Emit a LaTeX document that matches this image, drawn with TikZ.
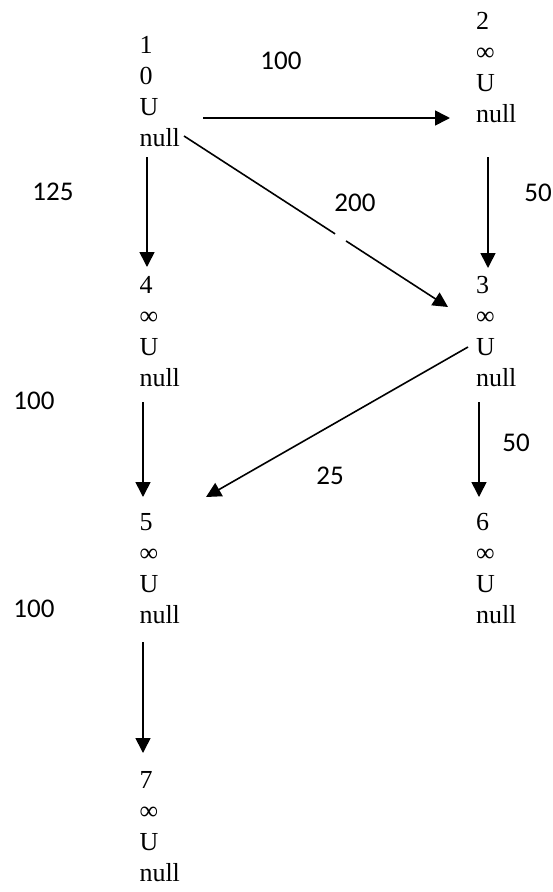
\documentclass[tikz,border=0pt]{standalone}
\usepackage{fontspec}
\setmainfont{Liberation Serif}
\newfontfamily\lblfont{Carlito}
\usetikzlibrary{arrows.meta}
\newcommand{\vstack}[1]{\begin{tabular}[t]{@{}l@{}}#1\end{tabular}}
\tikzset{
  vtx/.style={inner sep=0pt, outer sep=0pt, anchor=base west, font=\fontsize{26}{31}\selectfont},
  lbl/.style={inner sep=0pt, outer sep=0pt, anchor=center, font=\lblfont\fontsize{27}{32}\selectfont},
  arr/.style={line width=1.6pt, -{Triangle[length=15pt,width=15pt]}},
}
\begin{document}
\begin{tikzpicture}[x=1pt,y=-1pt]
\useasboundingbox (0,0) rectangle (552,892);
\renewcommand{\arraystretch}{1}
% vertices
\node[vtx] (n1) at (139.5,53.5) {\vstack{1\\0\\U\\null}};
\node[vtx] (n2) at (476,29.5) {\vstack{2\\∞\\U\\null}};
\node[vtx] (n4) at (139.5,293) {\vstack{4\\∞\\U\\null}};
\node[vtx] (n3) at (476,293) {\vstack{3\\∞\\U\\null}};
\node[vtx] (n5) at (139.5,530) {\vstack{5\\∞\\U\\null}};
\node[vtx] (n6) at (476,530) {\vstack{6\\∞\\U\\null}};
\node[vtx] (n7) at (139.5,788) {\vstack{7\\∞\\U\\null}};
% weights
\node[lbl] (w12) at (281,60.5) {100};
\node[lbl] (w14) at (53,192) {125};
\node[lbl] (w13) at (355,202.5) {200};
\node[lbl] (w23) at (538,193) {50};
\node[lbl] (w45) at (34,401) {100};
\node[lbl] (w35) at (330,476) {25};
\node[lbl] (w36) at (516,443) {50};
\node[lbl] (w57) at (34,609) {100};
% edges
\draw[arr] ([shift={(63.5,64.5)}]n1.base west) -- ([shift={(-26,88.5)}]n2.base west);
\draw[arr, dash pattern=on 180pt off 13pt on 600pt] ([shift={(44.5,82.5)}]n1.base west) -- ([shift={(-28,14)}]n3.base west);
\draw[arr] ([shift={(7.5,103.5)}]n1.base west) -- ([shift={(7.5,-26)}]n4.base west);
\draw[arr] ([shift={(12,127.5)}]n2.base west) -- ([shift={(12,-25)}]n3.base west);
\draw[arr] ([shift={(3.5,109)}]n4.base west) -- ([shift={(3.5,-33)}]n5.base west);
\draw[arr] ([shift={(-8,54)}]n3.base west) -- ([shift={(66.5,-33)}]n5.base west);
\draw[arr] ([shift={(3,109)}]n3.base west) -- ([shift={(3,-33)}]n6.base west);
\draw[arr] ([shift={(3.5,112)}]n5.base west) -- ([shift={(3.5,-35)}]n7.base west);
\end{tikzpicture}
\end{document}
